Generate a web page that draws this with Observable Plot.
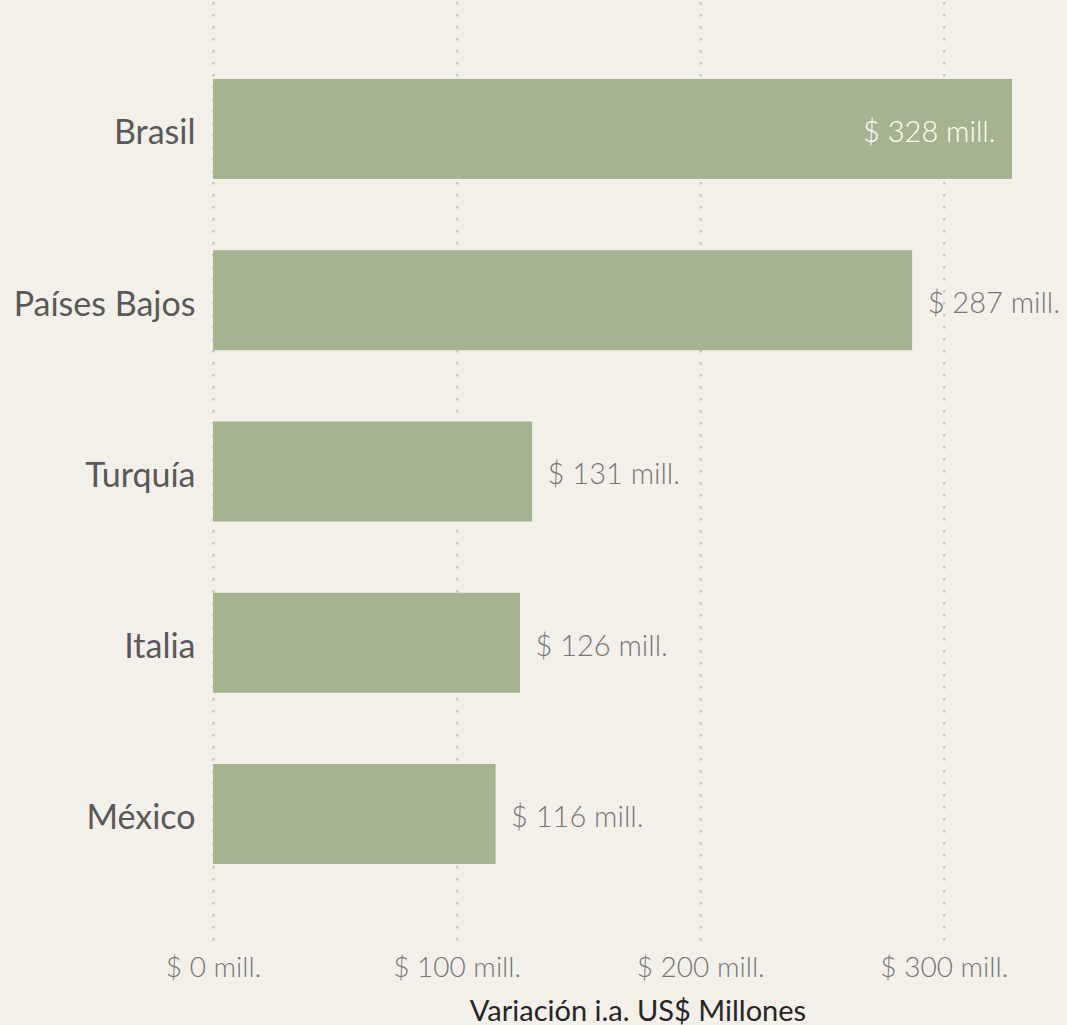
<!DOCTYPE html>
<html>
<head>
<meta charset="utf-8">
<script src="https://cdn.jsdelivr.net/npm/d3@7"></script>
<script src="https://cdn.jsdelivr.net/npm/@observablehq/plot@0.6"></script>
<style>
  html, body { margin: 0; padding: 0; background: #f3f0e9; }
  #chart svg { display: block; }
  #caption { margin-left: 213px; width: 850px; padding-top: 1px; text-align: center; font-family: Lato, "Open Sans", sans-serif; font-size: 29px; color: #262626; line-height: 33px; }
</style>
</head>
<body>
<div id="chart"></div>
<div id="caption">Variación i.a. US$ Millones</div>
<script>
const countries = ["Brasil", "Países Bajos", "Turquía", "Italia", "México"];
const values = [328, 287, 131, 126, 116];
const xTicks = [0, 100, 200, 300];
const fmt = d => `$ ${d} mill.`;

const data = countries.map((c, i) => ({country: c, value: values[i]}));
const insideLimit = 300;

const chart = Plot.plot({
  width: 1067,
  height: 992,
  marginLeft: 213,
  marginRight: 55,
  marginTop: 0,
  marginBottom: 49,
  style: {background: "#f3f0e9", fontFamily: "Lato, 'Open Sans', sans-serif"},
  x: {domain: [0, 328], label: null},
  y: {domain: countries, paddingInner: 0.416, paddingOuter: 0.461, round: false, label: null},
  marks: [
    Plot.ruleX(xTicks, {stroke: "#c6c6c6", strokeWidth: 2.5, strokeDasharray: "2.5,9.5", strokeDashoffset: -2}),
    Plot.barX(data, {x: "value", y: "country", fill: "#a5b390"}),
    Plot.text(data.filter(d => d.value > insideLimit), {x: "value", y: "country", text: d => fmt(d.value), textAnchor: "end", dx: -17, dy: 3, fill: "#ffffff", fontSize: 29, fontWeight: 300}),
    Plot.text(data.filter(d => d.value <= insideLimit), {x: "value", y: "country", text: d => fmt(d.value), textAnchor: "start", dx: 15, dy: 3, fill: "#767676", fontSize: 29, fontWeight: 300}),
    Plot.axisX({ticks: xTicks, tickFormat: fmt, tickSize: 0, tickPadding: 14, fontSize: 28, fontWeight: 300, fill: "#767676", label: null}),
    Plot.axisY({tickSize: 0, tickPadding: 18, dy: 4, fontSize: 34, fill: "#595959", label: null})
  ]
});
document.getElementById("chart").append(chart);
</script>
</body>
</html>
